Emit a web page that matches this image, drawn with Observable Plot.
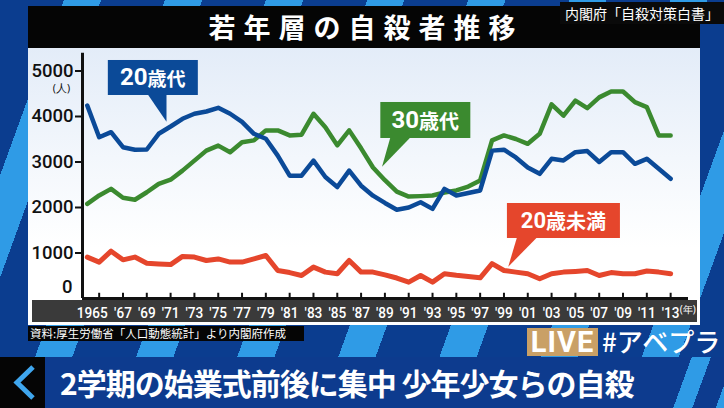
<!DOCTYPE html>
<html>
<head>
<meta charset="utf-8">
<script src="https://cdn.jsdelivr.net/npm/d3@7"></script>
<script src="https://cdn.jsdelivr.net/npm/@observablehq/plot@0.6"></script>
<style>
html,body{margin:0;padding:0;}
body{width:724px;height:408px;overflow:hidden;position:relative;background:#0b3d8f;font-family:"Noto Sans CJK JP",sans-serif;}
#bg{position:absolute;left:0;top:0;width:724px;height:408px;background:repeating-linear-gradient(110deg,#0b3d8f 0px,#0b3d8f 60px,#2f9be6 60px,#2f9be6 95px);}
#titlebar{position:absolute;left:28px;top:6px;width:672px;height:42px;background:#050505;color:#fff;font-size:27px;font-weight:700;line-height:42px;text-align:center;letter-spacing:8px;white-space:nowrap;}
#titlebar span{position:relative;left:2px;}
#topright{position:absolute;left:560px;top:2px;width:164px;height:22px;background:#0a0a0a;color:#fff;font-size:14px;line-height:22px;text-align:center;white-space:nowrap;z-index:2;}
#panel{position:absolute;left:28px;top:48px;width:672px;height:277px;background:linear-gradient(to bottom,#e3ecf8 0px,#f3f7fc 110px,#ffffff 200px,#ffffff 277px);}
#xbar{position:absolute;left:4px;top:252px;width:665px;height:22px;background:#3a3a3a;}
#chart{position:absolute;left:0;top:0;}
#caption{position:absolute;left:28px;top:326px;width:274px;height:15px;background:#050505;color:#fff;font-size:11.5px;line-height:15px;padding-left:2px;white-space:nowrap;}
#live{position:absolute;left:527px;top:328px;width:71px;height:28px;background:#c9a066;color:#fff;font-family:"Liberation Sans Narrow","Roboto",sans-serif;font-weight:700;font-size:29px;line-height:29px;text-align:center;letter-spacing:1px;}
#tag{position:absolute;left:602px;top:325px;color:#fff;font-size:26px;font-weight:500;line-height:32px;white-space:nowrap;}
#banner{position:absolute;left:0;top:357px;width:724px;height:51px;background:linear-gradient(110deg,#0d3b8e 0px,#0d3b8e 650px,#2f9be6 650px,#2f9be6 668px,#0d3b8e 668px,#0d3b8e 690px,#2f9be6 690px,#2f9be6 708px,#0d3b8e 708px);}
#back{position:absolute;left:0;top:0;width:45px;height:51px;background:#050505;}
#headline{position:absolute;left:60px;top:0;height:51px;color:#fff;font-size:30px;font-weight:700;line-height:51px;white-space:nowrap;letter-spacing:-1px;}
</style>
</head>
<body>
<div id="bg"></div>
<div id="titlebar"><span>若年層の自殺者推移</span></div>
<div id="topright">内閣府「自殺対策白書」</div>
<div id="panel"><div id="xbar"></div><div id="chart"></div></div>
<div id="caption">資料:厚生労働省「人口動態統計」より内閣府作成</div>
<div id="live">LIVE</div>
<div id="tag">#アベプラ</div>
<div id="banner"><div id="back"><svg width="45" height="51"><polyline points="33,10 17,25.5 33,41" fill="none" stroke="#3fa6ee" stroke-width="5"/></svg></div><div id="headline">2学期の始業式前後に集中 少年少女らの自殺</div></div>
<script>
// ---- data ----
const years = [1964,1965,1966,1967,1968,1969,1970,1971,1972,1973,1974,1975,1976,1977,1978,1979,1980,1981,1982,1983,1984,1985,1986,1987,1988,1989,1990,1991,1992,1993,1994,1995,1996,1997,1998,1999,2000,2001,2002,2003,2004,2005,2006,2007,2008,2009,2010,2011,2012,2013];
const age20s = [4240,3545,3655,3325,3270,3275,3620,3780,3950,4060,4110,4190,4060,3880,3620,3510,3140,2700,2700,3030,2670,2450,2810,2480,2260,2100,1950,2000,2115,1970,2410,2265,2320,2375,3250,3270,3100,2880,2740,3070,3035,3215,3240,3000,3215,3215,2960,3070,2850,2630];
const age30s = [2080,2265,2410,2215,2170,2335,2520,2610,2810,3030,3250,3360,3215,3435,3475,3695,3695,3585,3600,4060,3765,3365,3695,3300,2880,2600,2350,2240,2250,2265,2330,2375,2460,2595,3475,3585,3505,3400,3620,4265,4020,4350,4185,4420,4550,4550,4315,4205,3585,3585];
const under20 = [910,800,1040,850,910,775,760,745,925,910,835,870,800,800,870,945,615,570,505,690,580,545,835,580,580,520,450,360,505,360,545,510,485,455,765,615,580,545,435,545,580,595,615,505,570,545,545,605,580,545];
const seriesNames = ["20歳代","30歳代","20歳未満"];
const seriesColors = ["#0b4a98","#3b8a2f","#e5462c"];
const xTickYears = [1965,1967,1969,1971,1973,1975,1977,1979,1981,1983,1985,1987,1989,1991,1993,1995,1997,1999,2001,2003,2005,2007,2009,2011,2013];
const yTickValues = [1000,2000,3000,4000,5000];
const xUnit = "(年)";
const yUnit = "(人)";

const rows = [];
years.forEach((yr, i) => {
  rows.push({year: yr, series: seriesNames[0], value: age20s[i]});
  rows.push({year: yr, series: seriesNames[1], value: age30s[i]});
  rows.push({year: yr, series: seriesNames[2], value: under20[i]});
});
const bySeries = s => rows.filter(d => d.series === s);
const xMin = 1963.6;

const numFont = "Roboto, 'Liberation Sans', sans-serif";

const chart = Plot.plot({
  width: 672, height: 277,
  marginLeft: 54, marginRight: 12, marginTop: 22.5, marginBottom: 27,
  x: {domain: [xMin, 2014.5], axis: null},
  y: {domain: [0, 5000], axis: null},
  color: {domain: seriesNames, range: seriesColors},
  style: {background: "transparent", overflow: "visible"},
  marks: [
    Plot.line(bySeries("30歳代"), {x: "year", y: "value", stroke: "series", strokeWidth: 4.5, strokeLinejoin: "round"}),
    Plot.line(bySeries("20歳代"), {x: "year", y: "value", stroke: "series", strokeWidth: 4.5, strokeLinejoin: "round"}),
    Plot.line(bySeries("20歳未満"), {x: "year", y: "value", stroke: "series", strokeWidth: 5, strokeLinejoin: "round"}),
    Plot.ruleY([0], {stroke: "#111", strokeWidth: 3}),
    Plot.ruleX(xTickYears, {x: d => d, y1: 0, y2: 115, stroke: "#111", strokeWidth: 2}),
    Plot.axisX(xTickYears, {label: null, tickSize: 0, tickPadding: 8, fill: "#fff", fontSize: 15.5, fontWeight: 500, fontFamily: numFont,
      tickFormat: d => d === 1965 ? "1965" : "'" + String(d).slice(2)}),
    Plot.text([2013], {x: d => d, frameAnchor: "bottom", dx: 9, dy: 14, text: () => xUnit, textAnchor: "start", fill: "#fff", fontSize: 10}),
    Plot.axisY(yTickValues, {label: null, tickSize: 7, tickPadding: 2, stroke: "#111", strokeWidth: 2, fill: "#111", fontSize: 18.5, fontWeight: 500, fontFamily: numFont, tickFormat: d => String(d)}),
    Plot.text([0], {y: d => d, frameAnchor: "left", dx: -10, dy: -11, text: d => String(d), textAnchor: "end", fill: "#111", fontSize: 18.5, fontWeight: 500, fontFamily: numFont}),
    Plot.text([5000], {y: d => d, frameAnchor: "left", dx: -21, dy: 17.5, text: () => yUnit, textAnchor: "middle", fill: "#111", fontSize: 10.5}),
    Plot.ruleX([xMin], {x: d => d, y1: 0, y2: 5390, stroke: "#111", strokeWidth: 3})
  ]
});
document.getElementById("chart").appendChild(chart);

// condense the x tick labels horizontally (as in the reference)
d3.select(chart).selectAll('g[aria-label="x-axis tick label"] text').each(function() {
  const t = this.getAttribute("transform");
  const isFirst = this.textContent === "1965";
  if (t) this.setAttribute("transform", t + (isFirst ? " translate(-7,0)" : "") + " scale(0.88,1)");
});

// ---- callouts, anchored to data positions via the Plot scales ----
const sx = chart.scale("x"), sy = chart.scale("y");
const callouts = [
  {name: "20歳代", year: 1970.7, value: 3875, box: [-58.7, 31.3, -61.7, -26.7], base: [-18.7, 0], big: 24, small: 19},
  {name: "30歳代", year: 1988.8, value: 2886, box: [-1.7, 88.3, -64.7, -28.7], base: [8.3, 28.3], big: 24, small: 20},
  {name: "20歳未満", year: 1999.4, value: 688, box: [-1.3, 111.7, -63.7, -28.7], base: [8.7, 28.7], big: 22, small: 20}
];
const g = d3.select(chart).append("g");
callouts.forEach(c => {
  const tx = sx.apply(c.year), ty = sy.apply(c.value);
  const color = seriesColors[seriesNames.indexOf(c.name)];
  const [l, r, t, b] = c.box;
  g.append("rect").attr("x", tx + l).attr("y", ty + t).attr("width", r - l).attr("height", b - t).attr("fill", color);
  g.append("path").attr("d", `M${tx + c.base[0]},${ty + b - 0.5}L${tx + c.base[1]},${ty + b - 0.5}L${tx},${ty}Z`).attr("fill", color);
  const txt = g.append("text").attr("x", tx + (l + r) / 2).attr("y", ty + (t + b) / 2).attr("text-anchor", "middle")
    .attr("dominant-baseline", "central").attr("fill", "#fff").attr("font-weight", 700);
  const num = c.name.match(/^\d+/)[0];
  txt.append("tspan").attr("font-family", numFont).attr("font-size", c.big).text(num);
  txt.append("tspan").attr("font-family", "'Noto Sans CJK JP', sans-serif").attr("font-size", c.small).text(c.name.slice(num.length));
});
</script>
</body>
</html>
